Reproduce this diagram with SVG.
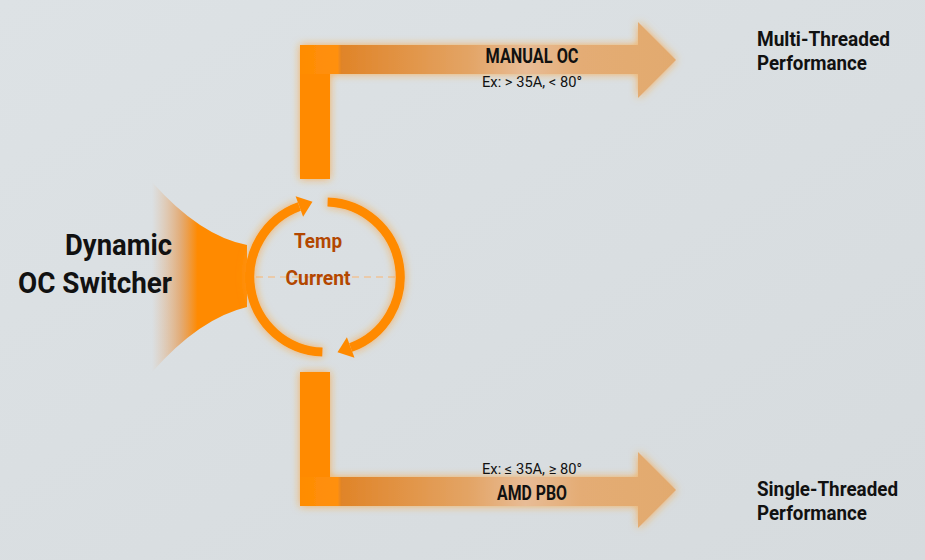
<svg xmlns="http://www.w3.org/2000/svg" width="925" height="560" viewBox="0 0 925 560">
<defs>
<linearGradient id="bg" x1="0" y1="0" x2="1" y2="1">
<stop offset="0" stop-color="#dde2e5"/>
<stop offset="1" stop-color="#d6dbde"/>
</linearGradient>
<linearGradient id="barT" gradientUnits="userSpaceOnUse" x1="300" y1="0" x2="676" y2="0">
<stop offset="0" stop-color="#ff8c00"/>
<stop offset="0.1" stop-color="#ff9010"/>
<stop offset="0.11" stop-color="#e08428"/>
<stop offset="0.45" stop-color="#e3a465"/>
<stop offset="0.6" stop-color="#e8bc96"/>
<stop offset="0.75" stop-color="#e4ac74"/>
<stop offset="1" stop-color="#e2aa6e"/>
</linearGradient>
<linearGradient id="funnel" gradientUnits="userSpaceOnUse" x1="152" y1="0" x2="247" y2="0">
<stop offset="0" stop-color="#e8a060" stop-opacity="0"/>
<stop offset="0.3" stop-color="#e88a30" stop-opacity="0.6"/>
<stop offset="0.48" stop-color="#ff8a00"/>
<stop offset="1" stop-color="#ff8a00"/>
</linearGradient>
<filter id="glow" x="-20%" y="-20%" width="140%" height="140%">
<feGaussianBlur in="SourceAlpha" stdDeviation="4" result="b"/>
<feFlood flood-color="#ff9a20" flood-opacity="0.7"/>
<feComposite in2="b" operator="in" result="g"/>
<feMerge><feMergeNode in="g"/><feMergeNode in="SourceGraphic"/></feMerge>
</filter>
</defs>
<style>
.t{font-family:Roboto,"Liberation Sans",sans-serif;font-weight:bold;fill:#111}
.s{font-family:Roboto,"Liberation Sans",sans-serif;font-weight:normal;fill:#111}
.c{font-family:Roboto,"Liberation Sans",sans-serif;font-weight:bold;fill:#b34700}
.o{fill:#ff8a00}
.arc{fill:none;stroke:#ff8a00;stroke-width:9}
</style>
<rect width="925" height="560" fill="url(#bg)"/>

<g id="switcher">
<path d="M152,182 Q200,236 247,245 L247,307 Q200,318 152,372 Z" fill="url(#funnel)"/>
<text class="t" x="172" y="255" font-size="30" text-anchor="end" textLength="107" lengthAdjust="spacingAndGlyphs">Dynamic</text>
<text class="t" x="172" y="293" font-size="30" text-anchor="end" textLength="154" lengthAdjust="spacingAndGlyphs">OC Switcher</text>
</g>

<g id="cycle">
<line x1="256" y1="277" x2="395" y2="277" stroke="#f0c498" stroke-width="1.5" stroke-dasharray="7,5"/>
<path class="arc" d="M327.6,202 A75,75 0 0 1 350.7,347.5" filter="url(#glow)"/>
<polygon class="o" points="337.5,352.3 354.5,357.8 346.9,337.2"/>
<path class="arc" d="M322.4,352 A75,75 0 0 1 299.3,206.5" filter="url(#glow)"/>
<polygon class="o" points="312.5,201.7 295.6,196.2 303.1,216.8"/>
<text class="c" x="318" y="248" font-size="21" text-anchor="middle" textLength="48" lengthAdjust="spacingAndGlyphs">Temp</text>
<text class="c" x="318" y="285" font-size="21" text-anchor="middle" textLength="65" lengthAdjust="spacingAndGlyphs">Current</text>
</g>

<g id="manual-oc">
<g filter="url(#glow)">
<rect class="o" x="300" y="45" width="30" height="134"/>
<polygon fill="url(#barT)" points="300,45 638,45 638,22 676,60 638,98 638,74 300,74"/>
</g>
<text class="t" x="532" y="63" font-size="19.5" text-anchor="middle" textLength="93" lengthAdjust="spacingAndGlyphs">MANUAL OC</text>
<text class="s" x="532" y="87" font-size="14.5" text-anchor="middle" textLength="100" lengthAdjust="spacingAndGlyphs">Ex: &gt; 35A, &lt; 80°</text>
</g>

<g id="amd-pbo">
<g filter="url(#glow)">
<rect class="o" x="300" y="372" width="30" height="134"/>
<polygon fill="url(#barT)" points="300,477 638,477 638,452 676,490 638,528 638,506 300,506"/>
</g>
<text class="s" x="532" y="474" font-size="14.5" text-anchor="middle" textLength="100" lengthAdjust="spacingAndGlyphs">Ex: ≤ 35A, ≥ 80°</text>
<text class="t" x="532" y="500" font-size="19.5" text-anchor="middle" textLength="70" lengthAdjust="spacingAndGlyphs">AMD PBO</text>
</g>

<g id="multi-threaded">
<text class="t" x="757" y="46" font-size="21" textLength="133" lengthAdjust="spacingAndGlyphs">Multi-Threaded</text>
<text class="t" x="757" y="70" font-size="21" textLength="110" lengthAdjust="spacingAndGlyphs">Performance</text>
</g>

<g id="single-threaded">
<text class="t" x="757" y="496" font-size="21" textLength="141" lengthAdjust="spacingAndGlyphs">Single-Threaded</text>
<text class="t" x="757" y="520" font-size="21" textLength="110" lengthAdjust="spacingAndGlyphs">Performance</text>
</g>
</svg>
